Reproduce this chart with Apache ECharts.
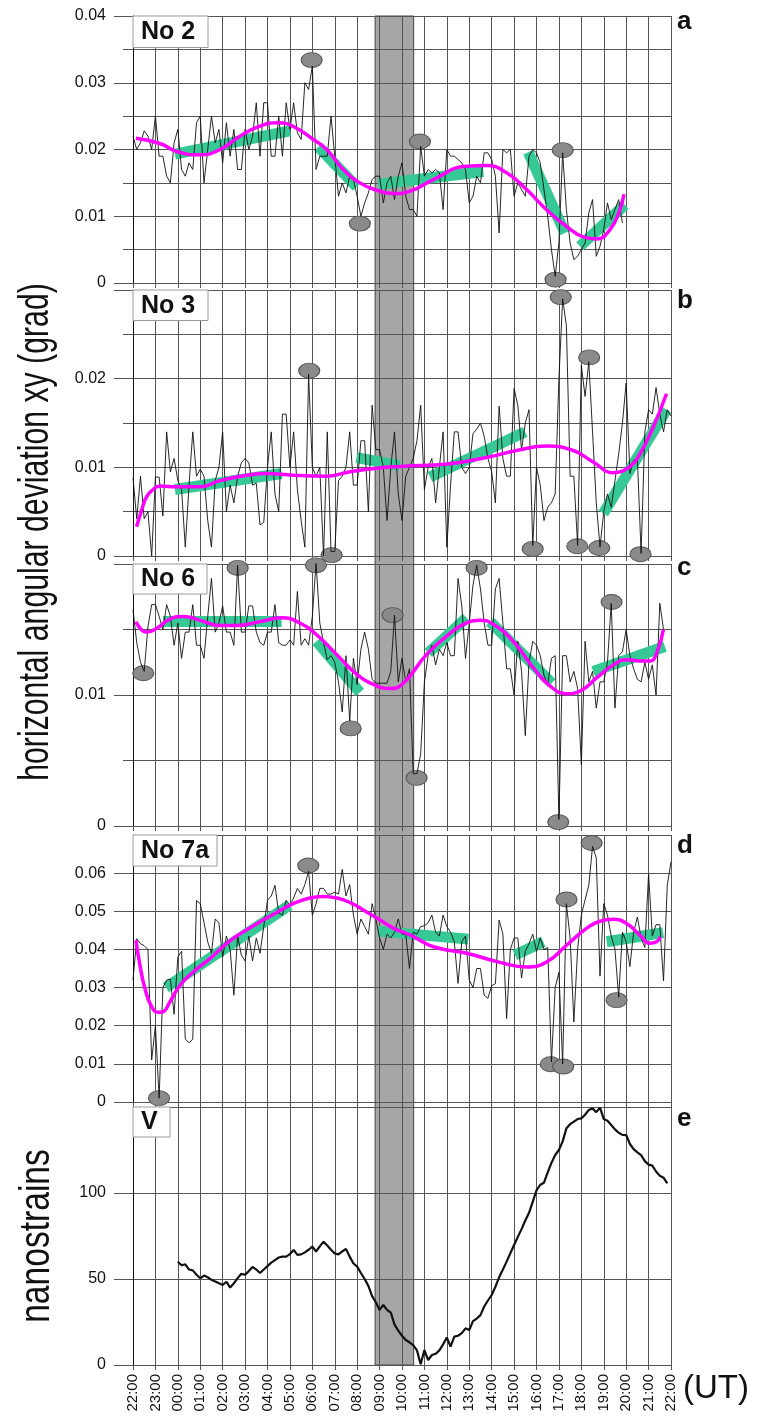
<!DOCTYPE html>
<html><head><meta charset="utf-8">
<script src="https://cdn.jsdelivr.net/npm/echarts@6/dist/echarts.min.js"></script>
<style>html,body{margin:0;padding:0;background:#fff}#c{width:757px;height:1418px}</style>
</head><body><div id="c"></div>
<script>
// time axis: hours after 22:00 (0..24); noisy series are 10-minute samples
const STEP = 1/6;
const hourTicks = ['22:00','23:00','00:00','01:00','02:00','03:00','04:00','05:00','06:00','07:00','08:00','09:00','10:00','11:00','12:00','13:00','14:00','15:00','16:00','17:00','18:00','19:00','20:00','21:00','22:00'];
const bandHours = [10.8, 12.52];

const panelNames = ['No 2','No 3','No 6','No 7a','V'];
const panelLetters = ['a','b','c','d','e'];
const yMax = [0.04, 0.03, 0.02, 0.07, 150];
const yStep = [0.01, 0.01, 0.01, 0.01, 50];
const yMinor = [true, true, true, false, false];

// ---- panel a (No 2) ----
const a_noise = [
0.0220,0.0200,0.0210,0.0228,0.0220,0.0200,0.0250,0.0190,0.0190,0.0160,
0.0150,0.0210,0.0230,0.0170,0.0160,0.0180,0.0170,0.0240,0.0250,0.0150,
0.0200,0.0250,0.0210,0.0230,0.0180,0.0240,0.0190,0.0230,0.0170,0.0170,
0.0230,0.0200,0.0220,0.0270,0.0190,0.0270,0.0270,0.0190,0.0190,0.0250,
0.0190,0.0270,0.0230,0.0270,0.0225,0.0215,0.0300,0.0290,0.0325,0.0170,
0.0190,0.0190,0.0190,0.0250,0.0190,0.0130,0.0150,0.0135,0.0160,0.0155,
0.0130,0.0100,0.0120,0.0135,0.0155,0.0160,0.0160,0.0120,0.0150,0.0160,
0.0125,0.0160,0.0180,0.0130,0.0110,
0.0110,0.0100,0.0205,0.0160,0.0170,0.0165,0.0170,0.0165,0.0110,0.0200,
0.0190,0.0190,0.0185,0.0180,0.0170,0.0120,0.0130,0.0160,0.0150,0.0195,
0.0195,0.0185,0.0160,0.0075,0.0200,0.0195,0.0200,0.0130,0.0150,0.0140,
0.0130,0.0190,0.0200,0.0195,0.0180,0.0140,0.0100,0.0050,0.0010,0.0060,
0.0195,0.0110,0.0060,0.0035,0.0040,0.0050,0.0060,0.0105,0.0125,0.0040,
0.0055,0.0080,0.0120,0.0095,0.0110,0.0125,0.0090];
const a_fit = [[0.13,0.0217],[1.2,0.0209],[1.95,0.0197],[2.99,0.0192],[3.88,0.0200],[4.77,0.0220],[5.66,0.0235],[6.48,0.0240],[7.15,0.02345],[8.04,0.0215],[8.64,0.0200],[9.38,0.0170],[10.12,0.0150],[10.87,0.0139],[11.61,0.0134],[12.4,0.0138],[13.4,0.0155],[14.88,0.0175],[15.78,0.0176],[16.67,0.0165],[17.56,0.0140],[18.44,0.0110],[19.33,0.0085],[20.09,0.0069],[20.68,0.0066],[21.28,0.0080],[21.72,0.0110],[21.9,0.0133]];
const a_trend = [[1.87,0.0193,7.0,0.0228],[8.27,0.0204,9.98,0.0144],[10.94,0.0148,15.63,0.0167],[17.63,0.0196,19.27,0.0075],[19.94,0.0055,21.94,0.0117]];
const a_outliers = [[7.97,0.0334],[10.12,0.0089],[12.8,0.0212],[19.17,0.0199],[18.85,0.0005]];

// ---- panel b (No 3) ----
const b_noise = [
0.0088,0.0042,0.0090,0.0042,0.0050,0.0000,0.0089,0.0089,0.0045,0.0140,
0.0095,0.0110,0.0085,0.0075,0.0010,0.0080,0.0140,0.0090,0.0098,0.0090,
0.0040,0.0010,0.0085,0.0100,0.0140,0.0050,0.0080,0.0060,0.0090,0.0105,
0.0110,0.0105,0.0080,0.0082,0.0035,0.0038,0.0100,0.0140,0.0070,0.0050,
0.0160,0.0160,0.0100,0.0140,0.0075,0.0040,0.0010,0.0205,0.0100,0.0090,
0.0100,0.0000,0.0140,0.0005,0.0005,0.0085,0.0090,0.0100,0.0140,0.0080,
0.0080,0.0130,0.0130,0.0050,0.0170,0.0120,0.0120,0.0100,0.0040,0.0100,
0.0140,0.0070,0.0040,0.0090,0.0100,0.0110,0.0130,0.0170,0.0075,0.0100,
0.0110,0.0060,0.0100,0.0140,0.0010,0.0080,0.0140,0.0140,0.0100,0.0093,
0.0100,0.0138,0.0143,0.0150,0.0135,0.0110,0.0095,0.0060,0.0169,0.0110,
0.0090,0.0090,0.0189,0.0170,0.0120,0.0150,0.0165,0.0012,0.0100,0.0080,
0.0040,0.0055,0.0060,0.0070,0.0200,0.0290,0.0260,0.0090,0.0090,0.0012,
0.0215,0.0180,0.0219,0.0140,0.0060,0.0010,0.0050,0.0070,0.0055,0.0085,
0.0115,0.0150,0.0195,0.0093,0.0108,0.0110,0.0003,0.0140,0.0165,0.0160,
0.0190,0.0160,0.0140,0.0165,0.0158];
const b_fit = [[0.16,0.0033],[0.39,0.0052],[0.61,0.0067],[0.9,0.0075],[1.2,0.0079],[1.95,0.0078],[2.99,0.0078],[3.88,0.0085],[5.07,0.0091],[5.96,0.0093],[7.15,0.0091],[8.64,0.0090],[9.68,0.0095],[10.87,0.0099],[11.91,0.0101],[14.14,0.0104],[15.92,0.0112],[17.11,0.0119],[18.45,0.0124],[19.64,0.0119],[20.53,0.0106],[21.42,0.0094],[22.17,0.0101],[22.61,0.0115],[23.2,0.0145],[23.8,0.0183]];
const b_trend = [[1.87,0.0075,6.63,0.0093],[9.97,0.0111,11.9,0.0102],[13.25,0.0089,17.49,0.0140],[20.98,0.0048,23.8,0.0165]];
const b_outliers = [[7.86,0.0209],[8.86,0.0001],[17.83,0.0008],[19.08,0.0292],[20.35,0.0224],[19.82,0.0011],[20.8,0.0009],[22.64,0.0002]];

// ---- panel c (No 6) ----
const c_noise = [
0.0165,0.0140,0.0125,0.0118,0.0152,0.0169,0.0169,0.0160,0.0150,0.0169,
0.0160,0.0138,0.0155,0.0128,0.0148,0.0148,0.0169,0.0138,0.0138,0.0128,
0.0160,0.0189,0.0148,0.0155,0.0168,0.0148,0.0148,0.0138,0.0199,0.0148,
0.0148,0.0168,0.0168,0.0148,0.0140,0.0138,0.0148,0.0148,0.0169,0.0140,
0.0138,0.0138,0.0142,0.0138,0.0179,0.0138,0.0143,0.0138,0.0160,0.0201,
0.0155,0.0140,0.0127,0.0130,0.0125,0.0110,0.0087,0.0130,0.0080,0.0128,
0.0108,0.0135,0.0148,0.0135,0.0112,0.0109,0.0109,0.0109,0.0109,0.0118,
0.0161,0.0110,0.0128,0.0110,0.0120,0.0040,0.0040,0.0055,0.0110,0.0130,
0.0138,0.0123,0.0135,0.0130,0.0140,0.0130,0.0130,0.0189,0.0168,0.0128,
0.0155,0.0184,0.0199,0.0181,0.0155,0.0138,0.0138,0.0181,0.0189,0.0155,
0.0120,0.0120,0.0100,0.0141,0.0118,0.0069,0.0125,0.0141,0.0138,0.0130,
0.0115,0.0108,0.0128,0.0130,0.0005,0.0130,0.0130,0.0110,0.0118,0.0105,
0.0047,0.0141,0.0110,0.0118,0.0090,0.0110,0.0110,0.0125,0.0170,0.0090,
0.0130,0.0133,0.0150,0.0130,0.0120,0.0112,0.0110,0.0125,0.0112,0.0123,
0.0100,0.0170,0.0150];
const c_fit = [[0.13,0.0156],[0.61,0.0148],[1.06,0.0151],[1.65,0.0158],[2.24,0.0160],[2.99,0.0157],[3.88,0.0153],[4.62,0.0153],[5.66,0.0156],[6.63,0.0159],[7.45,0.0155],[8.19,0.0146],[9.08,0.0131],[9.97,0.0116],[10.87,0.0107],[11.46,0.0105],[12.0,0.0108],[13.1,0.0131],[14.14,0.0147],[14.88,0.0155],[15.48,0.0157],[16.07,0.0154],[16.96,0.0141],[17.85,0.0121],[18.6,0.0107],[19.34,0.0101],[19.94,0.0103],[20.68,0.0113],[21.43,0.0123],[22.02,0.0127],[22.62,0.0126],[23.06,0.0126],[23.36,0.0132],[23.66,0.0150]];
const c_trend = [[1.34,0.0156,6.63,0.0156],[8.19,0.0141,10.12,0.0102],[13.17,0.0132,14.88,0.0159],[15.93,0.0156,18.68,0.0109],[20.53,0.0118,23.73,0.0137]];
const c_outliers = [[0.46,0.01166],[4.67,0.0197],[8.16,0.0199],[9.71,0.00745],[11.58,0.0161],[12.65,0.00367],[15.33,0.0197],[18.97,0.0003],[21.35,0.0171]];

// ---- panel d (No 7a) ----
const d_noise = [
0.0320,0.0428,0.0415,0.0410,0.0400,0.0110,0.0200,0.0010,0.0300,0.0320,
0.0322,0.0230,0.0380,0.0395,0.0165,0.0155,0.0165,0.0528,0.0520,0.0470,
0.0420,0.0390,0.0480,0.0470,0.0380,0.0435,0.0400,0.0280,0.0435,0.0385,
0.0370,0.0435,0.0370,0.0430,0.0390,0.0460,0.0529,0.0540,0.0568,0.0495,
0.0490,0.0529,0.0516,0.0535,0.0560,0.0545,0.0570,0.0605,0.0490,0.0520,
0.0560,0.0560,0.0545,0.0545,0.0550,0.0545,0.0610,0.0540,0.0570,0.0490,
0.0440,0.0480,0.0460,0.0440,0.0520,0.0480,0.0430,0.0400,0.0440,0.0430,
0.0445,0.0480,0.0440,0.0440,0.0350,0.0445,0.0440,0.0460,0.0462,0.0470,
0.0490,0.0445,0.0435,0.0490,0.0460,0.0445,0.0420,0.0311,0.0420,0.0435,
0.0320,0.0300,0.0350,0.0350,0.0280,0.0272,0.0305,0.0310,0.0477,0.0440,
0.0219,0.0400,0.0430,0.0430,0.0325,0.0395,0.0415,0.0440,0.0395,0.0430,
0.0400,0.0405,0.0105,0.0300,0.0340,0.0100,0.0520,0.0430,0.0210,0.0400,
0.0490,0.0530,0.0568,0.0670,0.0640,0.0330,0.0520,0.0490,0.0435,0.0400,
0.0275,0.0445,0.0420,0.0355,0.0445,0.0485,0.0430,0.0405,0.0598,0.0435,
0.0465,0.0465,0.0318,0.0568,0.0630];
const d_fit = [[0.13,0.0424],[0.31,0.0359],[0.53,0.0298],[0.83,0.0250],[1.13,0.0235],[1.35,0.0237],[1.65,0.0263],[2.1,0.0306],[2.69,0.0341],[3.43,0.0376],[4.18,0.0416],[4.92,0.0446],[5.66,0.0472],[6.41,0.0497],[7.15,0.0520],[7.89,0.0535],[8.49,0.0539],[9.08,0.0535],[9.68,0.0523],[10.42,0.0498],[11.02,0.0477],[11.61,0.0456],[12.4,0.0437],[13.4,0.0407],[14.88,0.0390],[16.37,0.0366],[17.56,0.0354],[18.45,0.0367],[19.34,0.0411],[20.23,0.0455],[20.83,0.0474],[21.43,0.0479],[22.02,0.0468],[22.62,0.0437],[23.06,0.0416],[23.36,0.0420],[23.51,0.0433]];
const d_trend = [[1.47,0.0300,6.98,0.0516],[10.94,0.0448,14.96,0.0427],[17.04,0.0385,18.3,0.0420],[21.13,0.0420,23.65,0.0444]];
const d_outliers = [[1.16,0.0010],[7.82,0.0620],[20.46,0.0679],[19.34,0.0531],[18.63,0.0099],[19.19,0.0093],[21.57,0.0267]];

// ---- panel e (V, nanostrains), starts 00:00 ----
const e_startIndex = 12;
const e_strain = [
60.0,58.0,58.5,55.5,55.0,52.5,50.4,52.0,51.0,49.5,
48.5,47.5,46.5,48.4,45.0,47.5,50.5,53.0,52.5,54.6,
57.0,55.5,53.5,55.5,57.5,59.5,61.0,62.5,63.0,63.0,
64.5,66.9,64.0,64.3,65.5,67.0,68.8,66.0,69.0,71.7,
69.5,67.0,64.8,64.3,66.0,67.5,63.0,59.0,57.2,53.5,
50.0,46.0,40.0,36.5,32.0,34.9,32.0,30.5,23.5,20.0,
17.0,14.5,13.2,11.6,8.5,0.4,8.7,2.9,5.8,6.5,
8.5,12.0,16.0,10.7,16.5,17.0,18.5,21.3,20.3,25.5,
27.0,29.0,34.0,37.5,40.7,45.5,51.0,55.5,60.1,65.0,
69.8,74.5,79.0,84.0,88.5,95.0,101.5,104.8,106.0,112.0,
117.5,122.1,125.0,130.0,137.6,140.0,141.5,143.0,143.4,145.5,
148.3,149.2,147.0,149.6,143.0,142.0,139.5,137.0,135.0,133.8,
133.7,128.5,125.5,123.6,122.0,118.5,116.5,115.9,112.5,110.0,
108.9,105.6];

const noise = [a_noise, b_noise, c_noise, d_noise];
const fits = [a_fit, b_fit, c_fit, d_fit];
const trends = [a_trend, b_trend, c_trend, d_trend];
const outliers = [a_outliers, b_outliers, c_outliers, d_outliers];

// ---- layout ----
const FONT = '"Liberation Sans", Arial, Helvetica, sans-serif';
const LEFT = 133, RIGHT = 86;
const LAYOUT = [{top:16,height:267},{top:290,height:266},{top:564,height:262},{top:835,height:267},{top:1107,height:258}];
const GRID_COLOR = '#555';

function toPairs(vals, start) { return vals.map((v, i) => [(start + i) * STEP, v]); }

const grid = [], xAxis = [], yAxis = [], series = [];
LAYOUT.forEach((L, i) => {
  grid.push({left: LEFT, right: RIGHT, top: L.top, height: L.height});
  xAxis.push({
    gridIndex: i, type: 'value', min: 0, max: 24, interval: 1, z: 2,
    axisLine: {show: false},
    axisTick: {show: true, length: 5, lineStyle: {color: GRID_COLOR}},
    splitLine: {show: true, lineStyle: {color: GRID_COLOR, width: 1}},
    axisLabel: {show: i === 4, rotate: 90, fontSize: 15, margin: 9, color: '#111', fontFamily: FONT,
      formatter: v => hourTicks[Math.round(v)]}
  });
  yAxis.push({
    gridIndex: i, type: 'value', min: 0, max: yMax[i], interval: yStep[i], z: 2,
    axisLine: {show: true, lineStyle: {color: '#111', width: 1}},
    axisTick: {show: true, length: 19, lineStyle: {color: GRID_COLOR}},
    minorTick: {show: yMinor[i], splitNumber: 2, length: 10, lineStyle: {color: GRID_COLOR}},
    splitLine: {show: true, lineStyle: {color: GRID_COLOR, width: 1}},
    minorSplitLine: {show: yMinor[i], lineStyle: {color: GRID_COLOR, width: 1}},
    axisLabel: {fontSize: 16, color: '#111', margin: 27, fontFamily: FONT,
      showMaxLabel: i === 0, showMinLabel: true}
  });
});
// overlay grid for the shaded interval across all panels
grid.push({left: LEFT, right: RIGHT, top: 16, height: 1349});
xAxis.push({gridIndex: 5, type: 'value', min: 0, max: 24, show: false});
yAxis.push({gridIndex: 5, type: 'value', min: 0, max: 1, show: false});

series.push({
  type: 'custom', xAxisIndex: 5, yAxisIndex: 5, z: 1, silent: true,
  data: [[bandHours[0], bandHours[1]]], encode: {x: [0, 1]},
  renderItem: (params, api) => {
    const p0 = api.coord([api.value(0), 1]);
    const p1 = api.coord([api.value(1), 0]);
    return {type: 'rect', shape: {x: p0[0], y: p0[1], width: p1[0] - p0[0], height: p1[1] - p0[1]},
      style: {fill: '#a6a6a6', stroke: '#444', lineWidth: 1}};
  }
});

for (let i = 0; i < 4; i++) {
  series.push({
    type: 'lines', coordinateSystem: 'cartesian2d', xAxisIndex: i, yAxisIndex: i, z: 3, silent: true,
    data: trends[i].map(s => ({coords: [[s[0], s[1]], [s[2], s[3]]]})),
    lineStyle: {color: '#36c995', width: 11, opacity: 1, cap: 'butt'}
  });
  series.push({
    type: 'scatter', xAxisIndex: i, yAxisIndex: i, z: 4, silent: true, clip: false,
    symbol: 'circle', symbolSize: [21, 15], data: outliers[i],
    itemStyle: {color: '#8a8a8a', borderColor: '#555', borderWidth: 1, opacity: 1}
  });
  series.push({
    type: 'line', xAxisIndex: i, yAxisIndex: i, z: 5, silent: true,
    data: toPairs(noise[i], 0), symbol: 'none',
    lineStyle: {color: '#111', width: 0.9}
  });
  series.push({
    type: 'line', xAxisIndex: i, yAxisIndex: i, z: 6, silent: true,
    data: fits[i], symbol: 'none', smooth: 0.5,
    lineStyle: {color: '#ff00ff', width: 3.5}
  });
}
series.push({
  type: 'line', xAxisIndex: 4, yAxisIndex: 4, z: 5, silent: true,
  data: toPairs(e_strain, e_startIndex), symbol: 'none',
  lineStyle: {color: '#111', width: 2.2}
});

// ---- texts ----
const nameBoxes = [
  {x: 133, y: 16, w: 75, h: 31.5},
  {x: 133, y: 290, w: 75, h: 30.5},
  {x: 133, y: 564, w: 74, h: 30},
  {x: 133, y: 835, w: 84, h: 31},
  {x: 133, y: 1107, w: 37, h: 30}
];
const letterY = [22, 301, 568, 846, 1119];
const elements = [];
nameBoxes.forEach((b, i) => {
  elements.push({type: 'rect', z: 100, shape: {x: b.x, y: b.y, width: b.w, height: b.h},
    style: {fill: '#fff', stroke: '#9a9a9a', lineWidth: 1}});
  elements.push({type: 'text', z: 101, x: 141, y: b.y + b.h / 2 + 0.5,
    style: {text: panelNames[i], font: 'bold 25px ' + FONT, fill: '#111', textAlign: 'left', textVerticalAlign: 'middle'}});
  elements.push({type: 'text', z: 101, x: 677, y: letterY[i],
    style: {text: panelLetters[i], font: 'bold 26px ' + FONT, fill: '#111', textAlign: 'left', textVerticalAlign: 'middle'}});
});
elements.push({type: 'text', z: 101, x: 36, y: 532, rotation: Math.PI / 2, scaleX: 0.72,
  style: {text: 'horizontal angular deviation xy (grad)', font: '42px ' + FONT, fill: '#111', textAlign: 'center', textVerticalAlign: 'middle'}});
elements.push({type: 'text', z: 101, x: 37, y: 1236, rotation: Math.PI / 2, scaleX: 0.8,
  style: {text: 'nanostrains', font: '42px ' + FONT, fill: '#111', textAlign: 'center', textVerticalAlign: 'middle'}});
elements.push({type: 'text', z: 101, x: 683, y: 1389,
  style: {text: '(UT)', font: '33px ' + FONT, fill: '#111', textAlign: 'left', textVerticalAlign: 'middle'}});

const chart = echarts.init(document.getElementById('c'), null, {renderer: 'canvas'});
chart.setOption({
  animation: false,
  backgroundColor: '#fff',
  grid, xAxis, yAxis, series,
  graphic: {elements}
});
</script></body></html>
